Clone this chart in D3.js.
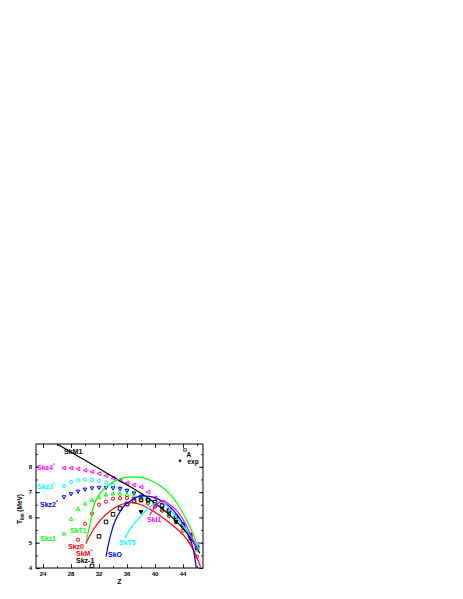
<!DOCTYPE html>
<html>
<head>
<meta charset="utf-8">
<script src="https://cdn.jsdelivr.net/npm/d3@7"></script>
<style>
  body { margin: 0; background: #fff; }
  svg text { font-family: "Liberation Sans", Arial, sans-serif; font-weight: bold; }
</style>
</head>
<body>
<svg id="chart" width="463" height="599"></svg>
<script>
// ---- data (Z, T_lim in MeV) ----
const xTicks = [24, 28, 32, 36, 40, 44];
const yTicks = [4, 5, 6, 7, 8];

// point series
const zPts = [27,28,29,30,31,32,33,34,35,36,37,38,39,40,41,42,43,44,45,46];
const skz4 = [7.95,7.95,7.92,7.86,7.80,7.73,7.65,7.55,7.45,7.36,7.28,7.20,7.00,6.78,6.55,6.30,6.00,5.70,5.32,4.95];
const skz3 = [7.24,7.40,7.47,7.50,7.48,7.45,7.38,7.28,7.18,7.07,6.95,6.82,6.68,6.52,6.35,6.15,5.92,5.62,5.25,4.92];
const skz2 = [6.80,6.92,7.02,7.10,7.15,7.17,7.17,7.15,7.12,7.05,6.95,6.82,6.68,6.52,6.34,6.12,5.88,5.58,5.20,4.80];
const skz1 = [5.36,5.94,6.34,6.55,6.68,6.80,6.90,6.94,6.94,6.90,6.84,6.75,6.62,6.47,6.30,6.10,5.86,5.56,5.18,4.72];
const zSkz0 = [29,30,31,32,33,34,35,36,37,38,39,40,41,42,43,44,45,46];
const skz0 = [5.12,5.75,6.15,6.50,6.62,6.74,6.76,6.77,6.74,6.66,6.55,6.42,6.26,6.06,5.80,5.48,5.05,4.45];
const zA = [31,32,33,34,35,36,37,38,39,40,41,42,43,44,45,46];
const seriesA = [4.08,5.25,5.82,6.12,6.35,6.53,6.65,6.70,6.68,6.60,6.47,6.28,6.03,5.72,5.30,4.80];
const zExp = [38, 43];
const exp = [6.21, 5.82];

// line series
const zSkM1 = [26.0,29.0,32.0,35.1,38.0,40.2,42.0,43.0,44.5,45.5,46.4];
const tSkM1 = [8.90,8.42,7.93,7.43,6.95,6.52,6.12,5.85,5.40,5.00,4.58];
const zSkT1 = [30.2,30.7,31.1,31.5,32.3,33.5,35.0,36.5,38.0,39.5,41.0,42.5,43.5,44.5,45.5,46.2];
const tSkT1 = [5.10,5.70,6.30,6.65,7.00,7.30,7.52,7.60,7.58,7.45,7.20,6.80,6.40,5.90,5.30,4.72];
const zSkMs = [30.1,31.3,32.5,33.6,34.7,35.7,36.8,38.0,40.0,42.0,43.5,44.5,45.5,46.5];
const tSkMs = [4.97,5.56,5.98,6.25,6.45,6.55,6.58,6.50,6.20,5.80,5.45,5.15,4.70,4.05];
const zSkO = [33.0,33.4,33.77,34.24,34.96,35.67,36.63,37.4,38.2,39.2,40.2,41.2,42.2,43.1,44.0,44.8,45.4,45.9];
const tSkO = [4.45,5.00,5.42,5.82,6.21,6.48,6.68,6.80,6.85,6.83,6.75,6.60,6.40,6.12,5.75,5.30,4.80,4.00];
const zSkT5 = [35.7,35.91,36.86,38.06,39.0,39.96,41.0,42.0,43.06,44.0,45.0,46.24];
const tSkT5 = [5.18,5.29,5.69,6.08,6.35,6.55,6.60,6.38,5.98,5.68,5.30,4.78];
const zSkI1 = [39.24,39.96,40.67,41.1,41.86,43.06,44.0,45.0,46.1];
const tSkI1 = [6.08,6.41,6.61,6.67,6.55,6.28,5.92,5.37,4.70];

// labels
const labelText = ["SkM1","Skz4","Skz3","Skz2","SkT1","Skz1","Skz0","SkM","Skz-1","SkO","SkT5","SkI1"];
const labelSup  = ["", "*", "*", "*", "", "", "", "*", "", "", "", ""];

// ---- drawing ----
const svg = d3.select("#chart");
const L = 36, R = 203, T = 444, B = 568;
const x = d3.scaleLinear().domain([23, 46.85]).range([L, R]);
const y = d3.scaleLinear().domain([4, 8.9]).range([B, T]);

const C = { black: "#000000", magenta: "#ff00ff", cyan: "#00ffff", blue: "#0000ff", green: "#00ff00", red: "#ff0000" };

svg.append("defs").append("clipPath").attr("id", "clip")
  .append("rect").attr("x", L).attr("y", T).attr("width", R - L).attr("height", B - T);

// axes with inward ticks on all four sides
const xMinor = d3.range(24, 47, 2);
const yMinor = d3.range(4, 8.9, 0.5);
function axisTicks(g, orient) {
  const horiz = (orient === "bottom" || orient === "top");
  const maj = horiz ? xTicks : yTicks;
  const min = horiz ? xMinor : yMinor;
  const sc = horiz ? x : y;
  let ax;
  if (orient === "bottom") ax = d3.axisBottom(sc);
  if (orient === "top") ax = d3.axisTop(sc);
  if (orient === "left") ax = d3.axisLeft(sc);
  if (orient === "right") ax = d3.axisRight(sc);
  g.call(ax.tickValues(min).tickSize(-2).tickFormat(""));
  g.select(".domain").remove();
  const g2 = g.append("g");
  g2.call(ax.tickValues(maj).tickSize(-4).tickFormat(""));
  g2.select(".domain").remove();
  g.selectAll("line").attr("stroke", "#000").attr("stroke-width", 0.8);
}
axisTicks(svg.append("g").attr("transform", `translate(0,${B})`), "bottom");
axisTicks(svg.append("g").attr("transform", `translate(0,${T})`), "top");
axisTicks(svg.append("g").attr("transform", `translate(${L},0)`), "left");
axisTicks(svg.append("g").attr("transform", `translate(${R},0)`), "right");

svg.append("rect").attr("x", L).attr("y", T).attr("width", R - L).attr("height", B - T)
  .attr("fill", "none").attr("stroke", "#000").attr("stroke-width", 1);

// tick labels
svg.append("g").selectAll("text").data(xTicks).join("text")
  .attr("x", d => x(d)).attr("y", 576).attr("text-anchor", "middle")
  .attr("font-size", 6).text(d => d);
svg.append("g").selectAll("text").data(yTicks).join("text")
  .attr("x", 32).attr("y", d => y(d) + 2).attr("text-anchor", "end")
  .attr("font-size", 6).text(d => d);

// axis titles
svg.append("text").attr("x", 119.5).attr("y", 583.5).attr("text-anchor", "middle")
  .attr("font-size", 7).text("Z");
const yt = svg.append("text").attr("transform", "translate(22,509) rotate(-90)")
  .attr("text-anchor", "middle").attr("font-size", 6.5);
yt.append("tspan").text("T");
yt.append("tspan").attr("font-size", 4.5).attr("dy", 1.5).text("lim");
yt.append("tspan").attr("dy", -1.5).text(" (MeV)");

const plot = svg.append("g").attr("clip-path", "url(#clip)");

// lines
const line = d3.line().x(d => x(d[0])).y(d => y(d[1])).curve(d3.curveCatmullRom.alpha(0.5));
function drawLine(zs, ts, color) {
  plot.append("path").datum(zs.map((z, i) => [z, ts[i]]))
    .attr("d", line).attr("fill", "none").attr("stroke", color).attr("stroke-width", 1.2);
}

// markers
function sym(type, cx, cy, s) {
  const h = s / 2;
  if (type === "left") return `M${cx - h},${cy}L${cx + h},${cy - h}L${cx + h},${cy + h}Z`;
  if (type === "down") return `M${cx - h},${cy - h * 0.8}L${cx + h},${cy - h * 0.8}L${cx},${cy + h}Z`;
  if (type === "up") return `M${cx - h},${cy + h * 0.8}L${cx + h},${cy + h * 0.8}L${cx},${cy - h}Z`;
  if (type === "square") return `M${cx - h},${cy - h}h${s}v${s}h${-s}Z`;
  return "";
}
function drawPoints(zs, ts, color, type, filled) {
  const g = plot.append("g");
  zs.forEach((z, i) => {
    if (type === "circle") {
      g.append("circle").attr("cx", x(z)).attr("cy", y(ts[i])).attr("r", 1.6)
        .attr("fill", "none").attr("stroke", color).attr("stroke-width", 1);
    } else {
      g.append("path").attr("d", sym(type, x(z), y(ts[i]), 3.6))
        .attr("fill", filled ? color : "none").attr("stroke", color).attr("stroke-width", 1);
    }
  });
}

drawPoints(zPts, skz4, C.magenta, "left", false);
drawPoints(zPts, skz3, C.cyan, "circle", false);
drawPoints(zPts, skz2, C.blue, "down", false);
drawPoints(zPts, skz1, C.green, "up", false);
drawPoints(zSkz0, skz0, C.red, "circle", false);
drawPoints(zA, seriesA, C.black, "square", false);

drawLine(zSkM1, tSkM1, C.black);
drawLine(zSkT1, tSkT1, C.green);
drawLine(zSkMs, tSkMs, C.red);
drawLine(zSkO, tSkO, C.blue);
drawLine(zSkT5, tSkT5, C.cyan);
drawLine(zSkI1, tSkI1, C.magenta);

drawPoints(zExp, exp, C.black, "down", true);

// series labels
const labelPos = [[64,453.5],[37,469.5],[37,488.5],[40,506.5],[70,532.5],[40,540.5],[68,548.5],[76,555.5],[76,562.5],[108,556.5],[119,545],[147,521.5]];
const labelColor = [C.black, C.magenta, C.cyan, C.blue, C.green, C.green, C.red, C.red, C.black, C.blue, C.cyan, C.magenta];
labelText.forEach((t, i) => {
  const tx = svg.append("text").attr("x", labelPos[i][0]).attr("y", labelPos[i][1])
    .attr("font-size", 7).attr("fill", labelColor[i]);
  tx.append("tspan").text(t);
  if (labelSup[i]) tx.append("tspan").attr("font-size", 4.5).attr("dy", -2.5).text(labelSup[i]);
});

// legend
svg.append("path").attr("d", sym("square", 185, 450, 2.6)).attr("fill", "none").attr("stroke", "#000").attr("stroke-width", 0.7);
svg.append("text").attr("x", 186.5).attr("y", 457).attr("font-size", 6.5).text("A");
svg.append("path").attr("d", sym("down", 180, 461, 2.6)).attr("fill", "#000").attr("stroke", "#000").attr("stroke-width", 0.5);
svg.append("text").attr("x", 187.5).attr("y", 463.5).attr("font-size", 6.5).text("exp");
</script>
</body>
</html>
